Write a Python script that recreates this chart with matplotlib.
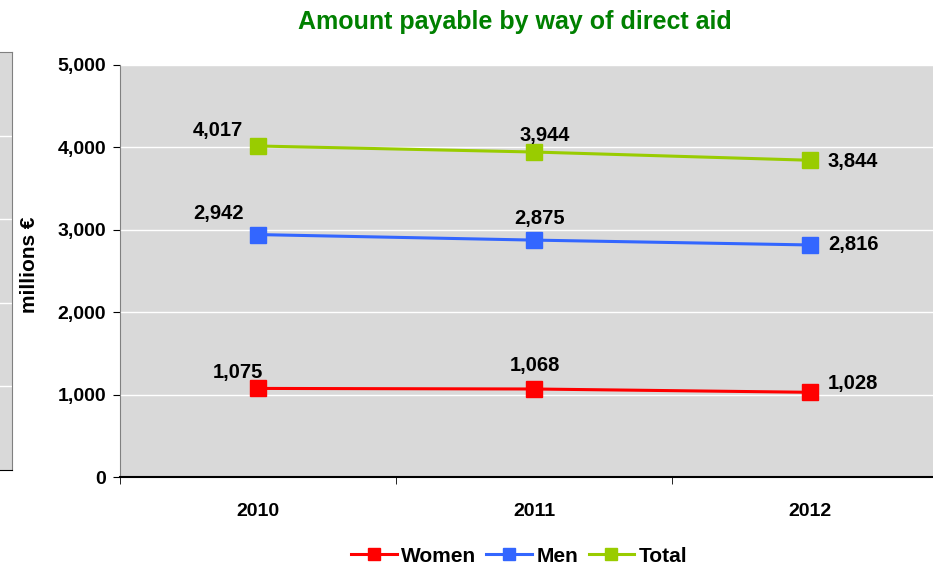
import matplotlib
matplotlib.use("Agg")
import matplotlib.pyplot as plt
from matplotlib.ticker import FuncFormatter, FixedLocator

plt.rcParams['font.family'] = ['Liberation Sans', 'DejaVu Sans']

years = ['2010', '2011', '2012']
women = [1075, 1068, 1028]
men = [2942, 2875, 2816]
total = [4017, 3944, 3844]
series_names = ['Women', 'Men', 'Total']
colors = ['#FF0000', '#3366FF', '#99CC00']

# label offsets in pixels (dx, dy) per series per year
label_offsets = [
    [(-20, 16), (1, 23), (18, 9)],     # women
    [(-40, 21), (6, 22), (18, 0)],     # men
    [(-40, 15), (11, 17), (18, -1)],   # total
]
label_ha = ['center', 'center', 'left']

fig = plt.figure(figsize=(9.33, 5.65), dpi=100)

# partial neighbouring chart at left edge
axl = fig.add_axes([-0.05, (565 - 470) / 565, 0.063, (470 - 52) / 565])
axl.set_facecolor('#D9D9D9')
axl.set_xlim(0, 1)
axl.set_ylim(0, 5)
axl.set_yticks([1, 2, 3, 4])
axl.yaxis.grid(True, color='white', lw=1)
axl.set_yticklabels([])
axl.tick_params(left=False, bottom=False)
axl.set_xticks([])
for s in axl.spines.values():
    s.set_color('#808080')
axl.spines['bottom'].set_color('black')

ax = fig.add_axes([120 / 933, (565 - 477) / 565, (948 - 120) / 933, (477 - 65) / 565])
ax.set_facecolor('#D9D9D9')
x = list(range(len(years)))
data = [women, men, total]
for si, (vals, name, c) in enumerate(zip(data, series_names, colors)):
    ax.plot(x, vals, color=c, lw=2.2, marker='s', markersize=11, label=name, zorder=3)
    for i, v in enumerate(vals):
        dx, dy = label_offsets[si][i]
        ax.annotate(f"{v:,}", (i, v), xytext=(dx, dy), textcoords='offset pixels',
                    ha=label_ha[i], va='center',
                    fontsize=14.5, fontweight='bold', color='black', zorder=4)

ax.set_xlim(-0.5, 2.5)
ax.set_ylim(0, 5000)
ax.set_yticks(range(0, 5001, 1000))
ax.yaxis.set_major_formatter(FuncFormatter(lambda v, p: f"{int(v):,}"))
ax.yaxis.grid(True, color='white', lw=1)
ax.set_axisbelow(True)
ax.set_xticks(x)
ax.set_xticklabels(years, fontsize=14, fontweight='bold')
ax.xaxis.set_minor_locator(FixedLocator([-0.5, 0.5, 1.5]))
ax.tick_params(axis='x', which='major', length=0, pad=19)
ax.tick_params(axis='x', which='minor', length=5, direction='out', color='black')
ax.tick_params(axis='y', length=5, direction='out', labelsize=14, pad=5)
for lab in ax.get_yticklabels():
    lab.set_fontweight('bold')
ax.spines['top'].set_visible(False)
ax.spines['right'].set_visible(False)
ax.spines['left'].set_color('#808080')
ax.spines['bottom'].set_color('black')
ax.spines['bottom'].set_linewidth(1.5)

fig.text(30 / 933, 1 - 265 / 565, 'millions €', rotation=90, ha='center', va='center',
         fontsize=15, fontweight='bold')

fig.text(515 / 933, 1 - 22 / 565, 'Amount payable by way of direct aid', ha='center', va='center',
         fontsize=18, fontweight='bold', color='#008000')

leg = fig.legend(loc='center', bbox_to_anchor=(519 / 933, 1 - 556 / 565), ncol=3, frameon=False,
                 prop={'weight': 'bold', 'size': 15}, handlelength=2.2, columnspacing=0.5,
                 handletextpad=0.2, markerscale=0.85)

fig.savefig('out.png', dpi=100)
